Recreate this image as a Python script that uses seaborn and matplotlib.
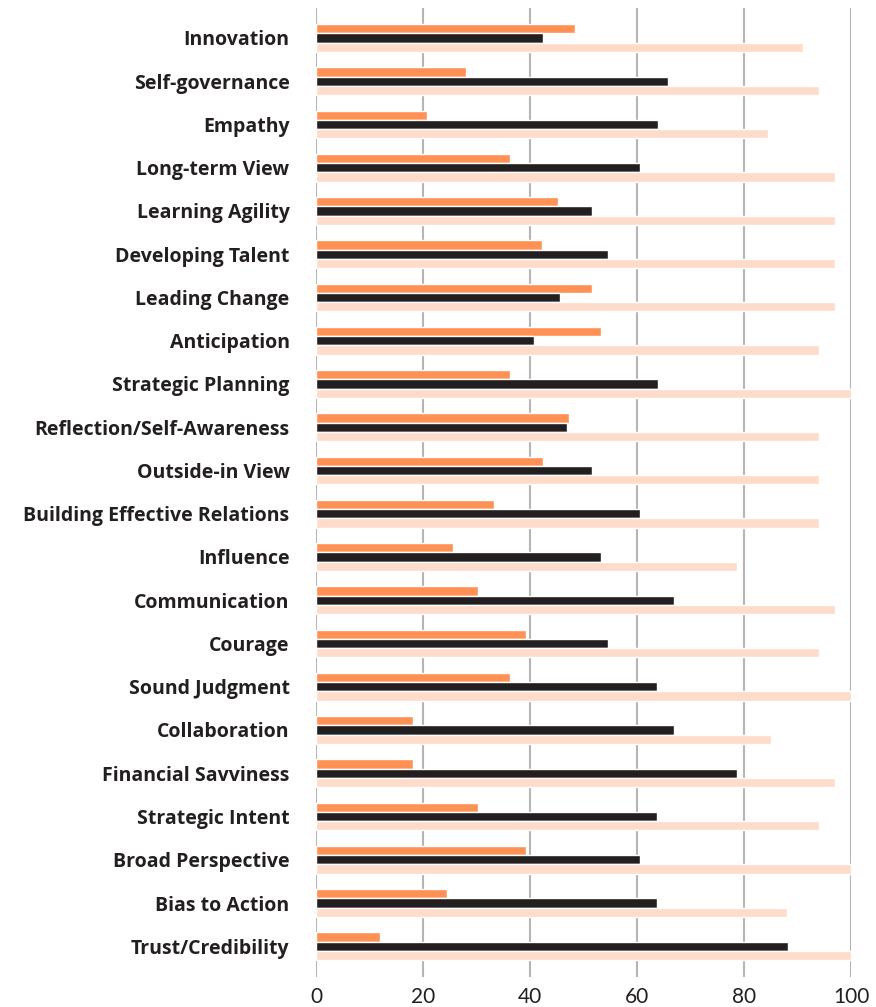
import pandas as pd
import matplotlib.pyplot as plt
import seaborn as sns

# competencies, top to bottom
skills = ['Innovation', 'Self-governance', 'Empathy', 'Long-term View', 'Learning Agility',
          'Developing Talent', 'Leading Change', 'Anticipation', 'Strategic Planning',
          'Reflection/Self-Awareness', 'Outside-in View', 'Building Effective Relations',
          'Influence', 'Communication', 'Courage', 'Sound Judgment', 'Collaboration',
          'Financial Savviness', 'Strategic Intent', 'Broad Perspective', 'Bias to Action',
          'Trust/Credibility']

# three series (orange, black, light peach)
orange_vals = [48.5, 28.0, 20.7, 36.2, 45.2, 42.2, 51.5, 53.2, 36.2, 47.2, 42.5,
               33.2, 25.7, 30.2, 39.2, 36.2, 18.1, 18.1, 30.2, 39.2, 24.4, 12.0]
black_vals = [42.5, 65.8, 63.9, 60.5, 51.5, 54.5, 45.6, 40.7, 63.9, 46.9, 51.5,
              60.5, 53.2, 66.9, 54.5, 63.7, 66.9, 78.7, 63.7, 60.5, 63.7, 88.2]
peach_vals = [91.0, 94.0, 84.5, 97.0, 97.0, 97.0, 97.0, 94.0, 100.0, 94.0, 94.0,
              94.0, 78.7, 97.0, 94.0, 100.0, 85.0, 97.0, 94.0, 100.0, 88.0, 100.0]

series_names = ['A', 'B', 'C']
colors = ['#FF9155', '#231F20', '#FEDCC9']

df = pd.DataFrame({
    'skill': skills * 3,
    'value': orange_vals + black_vals + peach_vals,
    'series': [series_names[0]] * len(skills) + [series_names[1]] * len(skills) + [series_names[2]] * len(skills),
})

sns.set_style('white')
plt.rcParams['font.family'] = ['Open Sans', 'DejaVu Sans']

fig = plt.figure(figsize=(8.76, 10.07), dpi=100)
ax = fig.add_axes([0.3607, 0.0298, 0.6108, 0.9622])

sns.barplot(data=df, x='value', y='skill', hue='series', order=skills,
            hue_order=series_names, palette=colors, orient='h',
            width=0.64, gap=0, saturation=1, errorbar=None, legend=False, ax=ax)

ax.set_xlim(0, 100)
ax.set_ylim(len(skills) - 1 + 0.71, -0.69)
ax.set_xticks([0, 20, 40, 60, 80, 100])
ax.grid(axis='x', color='#B5B5B5', linewidth=1.5)
ax.grid(axis='y', visible=False)
ax.set_axisbelow(True)
for side in ['top', 'right', 'bottom', 'left']:
    ax.spines[side].set_visible(False)

ax.set_xlabel('')
ax.set_ylabel('')
ax.tick_params(axis='y', length=0, pad=19)
ax.tick_params(axis='x', length=0, pad=7)
for lbl in ax.get_yticklabels():
    lbl.set_fontsize(14)
    lbl.set_fontweight('bold')
    lbl.set_color('#231F20')
for lbl in ax.get_xticklabels():
    lbl.set_fontsize(15)
    lbl.set_fontfamily(['Lato', 'DejaVu Sans'])
    lbl.set_color('#231F20')

fig.savefig('out.png', dpi=100)
